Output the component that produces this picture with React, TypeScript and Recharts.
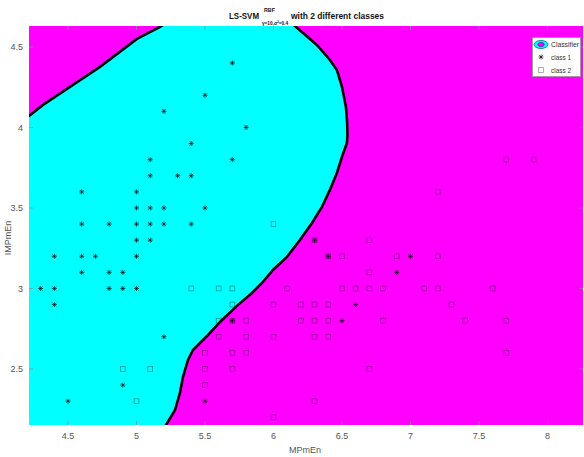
import React from 'react';
import { ComposedChart, Area, Line, Scatter, XAxis, YAxis } from 'recharts';

// ---- data ----
const X_DOMAIN: [number, number] = [4.215, 8.26];
const Y_DOMAIN: [number, number] = [2.152, 4.63];
const X_TICKS = [4.5, 5, 5.5, 6, 6.5, 7, 7.5, 8];
const Y_TICKS = [2.5, 3, 3.5, 4, 4.5];

// background (whole plot, class 2 region)
const backgroundRegion: [number, number][] = [[4.0, 4.8], [8.5, 4.8]];

// upper boundary of the class-1 (cyan) region
const upperLeftBoundary: [number, number][] = [
  [4.1, 4.0], [4.215, 4.071], [4.317, 4.14], [4.514, 4.252], [4.733, 4.376],
  [5.003, 4.55], [5.171, 4.624], [5.35, 4.72],
];
const upperRightBoundary: [number, number][] = [
  [6.04, 4.72], [6.157, 4.63], [6.317, 4.512], [6.412, 4.419], [6.463, 4.357],
  [6.5, 4.252], [6.529, 4.127], [6.538, 4.03], [6.54, 3.95],
];
// lower boundary of the cyan region (ascending x)
const lowerBoundary: [number, number][] = [
  [5.18, 2.05], [5.215, 2.152], [5.281, 2.245], [5.317, 2.351], [5.339, 2.45],
  [5.376, 2.556], [5.412, 2.618], [5.463, 2.661], [5.522, 2.711], [5.617, 2.798],
  [5.741, 2.898], [5.843, 2.972], [5.916, 3.034], [5.996, 3.115], [6.098, 3.196],
  [6.193, 3.301], [6.281, 3.407], [6.354, 3.506], [6.412, 3.612], [6.463, 3.717],
  [6.5, 3.817], [6.536, 3.904], [6.54, 3.95],
];

const class1: [number, number][] = [
  [5.7, 4.4], [5.5, 4.2], [5.2, 4.1], [5.8, 4.0], [5.4, 3.9], [5.1, 3.8], [5.7, 3.8],
  [5.1, 3.7], [5.3, 3.7], [5.4, 3.7], [4.6, 3.6], [5.0, 3.6], [5.0, 3.5], [5.1, 3.5],
  [5.2, 3.5], [5.5, 3.5], [4.6, 3.4], [4.8, 3.4], [5.0, 3.4], [5.1, 3.4], [5.2, 3.4],
  [5.4, 3.4], [5.0, 3.3], [5.1, 3.3], [4.4, 3.2], [4.6, 3.2], [4.7, 3.2], [5.0, 3.2],
  [4.6, 3.1], [4.8, 3.1], [4.9, 3.1], [4.3, 3.0], [4.4, 3.0], [4.8, 3.0], [4.9, 3.0],
  [5.0, 3.0], [4.4, 2.9], [5.2, 2.7], [4.9, 2.4], [4.5, 2.3], [5.5, 2.3], [6.3, 3.3],
  [6.4, 3.2], [7.0, 3.2], [6.9, 3.1], [6.6, 2.9], [6.5, 2.8], [5.7, 2.8],
];
const class2: [number, number][] = [
  [4.9, 2.5], [5.1, 2.5], [5.0, 2.3], [5.4, 3.0], [6.0, 3.4], [6.3, 3.3], [6.7, 3.3],
  [6.4, 3.2], [6.5, 3.2], [6.9, 3.2], [7.2, 3.2], [6.7, 3.1],
  [5.6, 3.0], [5.7, 3.0], [6.1, 3.0], [6.5, 3.0], [6.6, 3.0], [6.7, 3.0], [6.8, 3.0],
  [7.1, 3.0], [7.2, 3.0], [7.6, 3.0],
  [5.7, 2.9], [6.0, 2.9], [6.2, 2.9], [6.3, 2.9], [6.4, 2.9], [7.3, 2.9],
  [5.6, 2.8], [5.7, 2.8], [5.8, 2.8], [6.2, 2.8], [6.3, 2.8], [6.4, 2.8], [6.8, 2.8],
  [7.4, 2.8], [7.7, 2.8],
  [5.6, 2.7], [5.8, 2.7], [6.0, 2.7], [6.3, 2.7], [6.4, 2.7],
  [5.5, 2.6], [5.7, 2.6], [5.8, 2.6], [7.7, 2.6],
  [5.5, 2.5], [5.7, 2.5], [6.7, 2.5], [5.5, 2.4], [6.3, 2.3], [6.0, 2.2],
  [7.7, 3.8], [7.9, 3.8], [7.2, 3.6],
];

const toXY = (a: [number, number][]) => a.map(([x, y]) => ({ x, y }));

const bgData = toXY(backgroundRegion);
const cyanData = toXY([...upperLeftBoundary, ...upperRightBoundary]);
const lowerData = toXY([...lowerBoundary, [6.7, 3.95]]);
const line1Data = toXY(upperLeftBoundary);
const line2Data = toXY([...upperRightBoundary, ...[...lowerBoundary].reverse()]);

// inward tick marks on the four sides of the axes box
const bottomTicks = X_TICKS.map((x) => ({ x, y: Y_DOMAIN[0] }));
const topTicks = X_TICKS.map((x) => ({ x, y: Y_DOMAIN[1] }));
const leftTicks = Y_TICKS.map((y) => ({ x: X_DOMAIN[0], y }));
const rightTicks = Y_TICKS.map((y) => ({ x: X_DOMAIN[1], y }));

const MAGENTA = '#ff00ff';
const CYAN = '#00ffff';
const FONT = '"Liberation Sans", Arial, sans-serif';
const TICK_STROKE = '#8a8a8a';

const StarShape = (props: any) => {
  const { cx, cy } = props;
  if (cx == null || cy == null) return null;
  const r = 2.5;
  const d = 0.72 * r;
  return (
    <path
      d={`M${cx - r},${cy}H${cx + r}M${cx},${cy - r}V${cy + r}M${cx - d},${cy - d}L${cx + d},${cy + d}M${cx - d},${cy + d}L${cx + d},${cy - d}`}
      stroke="#000"
      strokeOpacity={0.7}
      strokeWidth={0.9}
      fill="none"
    />
  );
};

const SquareShape = (props: any) => {
  const { cx, cy } = props;
  if (cx == null || cy == null) return null;
  const s = 2.4;
  return (
    <rect x={cx - s} y={cy - s} width={2 * s} height={2 * s} fill="none" stroke="#000" strokeOpacity={0.4} strokeWidth={0.8} />
  );
};

const tickShape = (dx: number, dy: number) => (props: any) => {
  const { cx, cy } = props;
  if (cx == null || cy == null) return null;
  return <line x1={cx} y1={cy} x2={cx + dx} y2={cy + dy} stroke={TICK_STROKE} strokeWidth={0.7} />;
};

export default function App() {
  return (
    <div style={{ position: 'absolute', left: 0, top: 0, width: 584, height: 457, background: '#fff' }}>
      <ComposedChart width={584} height={457} margin={{ top: 26, right: 1, left: 0, bottom: 0 }}>
        <XAxis
          type="number"
          dataKey="x"
          domain={X_DOMAIN}
          ticks={X_TICKS}
          allowDataOverflow
          height={32}
          axisLine={false}
          tickLine={false}
          tickSize={0}
          tickMargin={8}
          tick={{ fontSize: 9, fill: '#555', fontFamily: FONT }}
        />
        <YAxis
          type="number"
          dataKey="y"
          domain={Y_DOMAIN}
          ticks={Y_TICKS}
          allowDataOverflow
          width={29}
          axisLine={false}
          tickLine={false}
          tickSize={0}
          tickMargin={6}
          tick={{ fontSize: 9, fill: '#555', fontFamily: FONT }}
        />
        <Area data={bgData} dataKey="y" type="linear" fill={MAGENTA} fillOpacity={1} stroke="none" baseValue="dataMin" isAnimationActive={false} />
        <Area data={cyanData} dataKey="y" type="linear" fill={CYAN} fillOpacity={1} stroke="none" baseValue="dataMin" isAnimationActive={false} />
        <Area data={lowerData} dataKey="y" type="linear" fill={MAGENTA} fillOpacity={1} stroke="none" baseValue="dataMin" isAnimationActive={false} />
        <Line data={line1Data} dataKey="y" type="linear" stroke="#000" strokeWidth={2.6} dot={false} isAnimationActive={false} />
        <Line data={line2Data} dataKey="y" type="linear" stroke="#000" strokeWidth={2.6} dot={false} isAnimationActive={false} />
        <Scatter data={bottomTicks} dataKey="y" shape={tickShape(0, -4)} isAnimationActive={false} />
        <Scatter data={topTicks} dataKey="y" shape={tickShape(0, 4)} isAnimationActive={false} />
        <Scatter data={leftTicks} dataKey="y" shape={tickShape(4, 0)} isAnimationActive={false} />
        <Scatter data={rightTicks} dataKey="y" shape={tickShape(-4, 0)} isAnimationActive={false} />
        <Scatter data={toXY(class2)} dataKey="y" shape={SquareShape} isAnimationActive={false} />
        <Scatter data={toXY(class1)} dataKey="y" shape={StarShape} isAnimationActive={false} />
      </ComposedChart>
      <svg width={584} height={457} style={{ position: 'absolute', left: 0, top: 0, pointerEvents: 'none' }}>
        <g fontFamily={FONT} fontWeight="bold" fill="#111">
          <text x={229} y={19} fontSize={9.5} textLength={30} lengthAdjust="spacingAndGlyphs">LS-SVM</text>
          <text x={264} y={12} fontSize={6} textLength={11} lengthAdjust="spacingAndGlyphs">RBF</text>
          <text x={262} y={25} fontSize={5.5} textLength={26} lengthAdjust="spacingAndGlyphs">γ=10,σ²=0.4</text>
          <text x={291} y={19} fontSize={9.5} textLength={93} lengthAdjust="spacingAndGlyphs">with 2 different classes</text>
        </g>
        <text x={305} y={453} fontSize={9} fill="#555" fontFamily={FONT} textAnchor="middle">MPmEn</text>
        <text x={11} y={238} fontSize={9} fill="#555" fontFamily={FONT} textAnchor="middle" transform="rotate(-90 11 238)">IMPmEn</text>
        <g fontFamily={FONT}>
          <rect x={532.5} y={37.5} width={48} height={39} fill="#fff" stroke="#999" strokeWidth={0.8} />
          <ellipse cx={541} cy={44.5} rx={7} ry={4} fill={CYAN} stroke="#1a8a9a" strokeWidth={1} />
          <ellipse cx={541} cy={44.5} rx={3.2} ry={2} fill={MAGENTA} stroke="#3333aa" strokeWidth={0.8} />
          <StarShape cx={541} cy={57} />
          <SquareShape cx={541} cy={70} />
          <text x={551} y={47} fontSize={7.5} fill="#333" textLength={28} lengthAdjust="spacingAndGlyphs">Classifier</text>
          <text x={551} y={60} fontSize={7.5} fill="#333" textLength={20} lengthAdjust="spacingAndGlyphs">class 1</text>
          <text x={551} y={73} fontSize={7.5} fill="#333" textLength={20} lengthAdjust="spacingAndGlyphs">class 2</text>
        </g>
      </svg>
    </div>
  );
}
